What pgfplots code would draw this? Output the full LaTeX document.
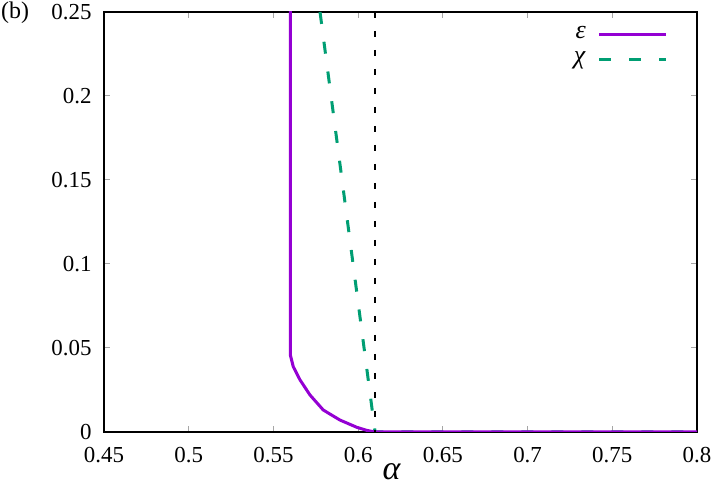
\documentclass[border=0pt]{standalone}
\usepackage{fontspec}
\setmainfont{Liberation Serif}
\usepackage{pgfplots}
\pgfplotsset{compat=1.18}
\definecolor{epscol}{HTML}{9400D3}
\definecolor{chicol}{HTML}{009E73}
\begin{document}
\begin{tikzpicture}
\useasboundingbox (-104bp,-60bp) rectangle (613bp,432bp);
\begin{axis}[
  at={(0,0)}, anchor=south west,
  scale only axis, width=593bp, height=420bp,
  xmin=0.45, xmax=0.8, ymin=0, ymax=0.25,
  xtick={0.45,0.5,0.55,0.6,0.65,0.7,0.75,0.8},
  xticklabels={0.45,0.5,0.55,0.6,0.65,0.7,0.75,0.8},
  ytick={0,0.05,0.1,0.15,0.2,0.25},
  yticklabels={0,0.05,0.1,0.15,0.2,0.25},
  scaled ticks=false,
  ticklabel style={font=\fontsize{23}{26}\selectfont},
  xticklabel style={yshift=-12bp},
  yticklabel style={xshift=-9bp},
  axis line style={line width=1.3bp},
  tick style={gray!70, line width=1bp},
  major tick length=6bp,
  xlabel={\fontsize{34}{38}\selectfont\itshape α},
  xlabel style={at={(axis description cs:0.485,0)}, anchor=center, yshift=-40bp},
  legend style={draw=none, fill=none, at={(1,1)}, anchor=north east,
    xshift=-26bp, yshift=-8bp, font=\fontsize{26}{28}\selectfont,
    row sep=0bp, column sep=10bp,
    nodes={text height=15bp, text depth=8bp, inner ysep=1bp}},
  legend cell align=right,
  legend plot pos=right,
  legend image code/.code={\draw[#1] (0bp,0bp) -- (67bp,0bp);},
]
\addplot[chicol, line width=3bp, dash pattern=on 12bp off 18bp, forget plot]
  coordinates {(0.5775,0.25) (0.61,0) (0.8,0)};
\addplot[epscol, line width=3bp]
  coordinates {(0.56,0.27) (0.56,0.0458) (0.5617,0.0389) (0.5657,0.031)
   (0.5716,0.022) (0.5794,0.0131) (0.5893,0.0071) (0.5992,0.0028)
   (0.605,0.0010) (0.61,0) (0.8,0)};
\addlegendentry{\textit{ε}}
\addlegendimage{chicol, line width=3bp, dash pattern=on 12bp off 18bp}
\addlegendentry{\textit{χ}}
\addplot[black, line width=1.3bp, dash pattern=on 6bp off 13bp, forget plot]
  coordinates {(0.61,0.25) (0.61,0)};
\end{axis}
\node[anchor=base west, inner sep=0, font=\fontsize{24}{26}\selectfont] at (-103bp,413bp) {(b)};
\end{tikzpicture}
\end{document}
